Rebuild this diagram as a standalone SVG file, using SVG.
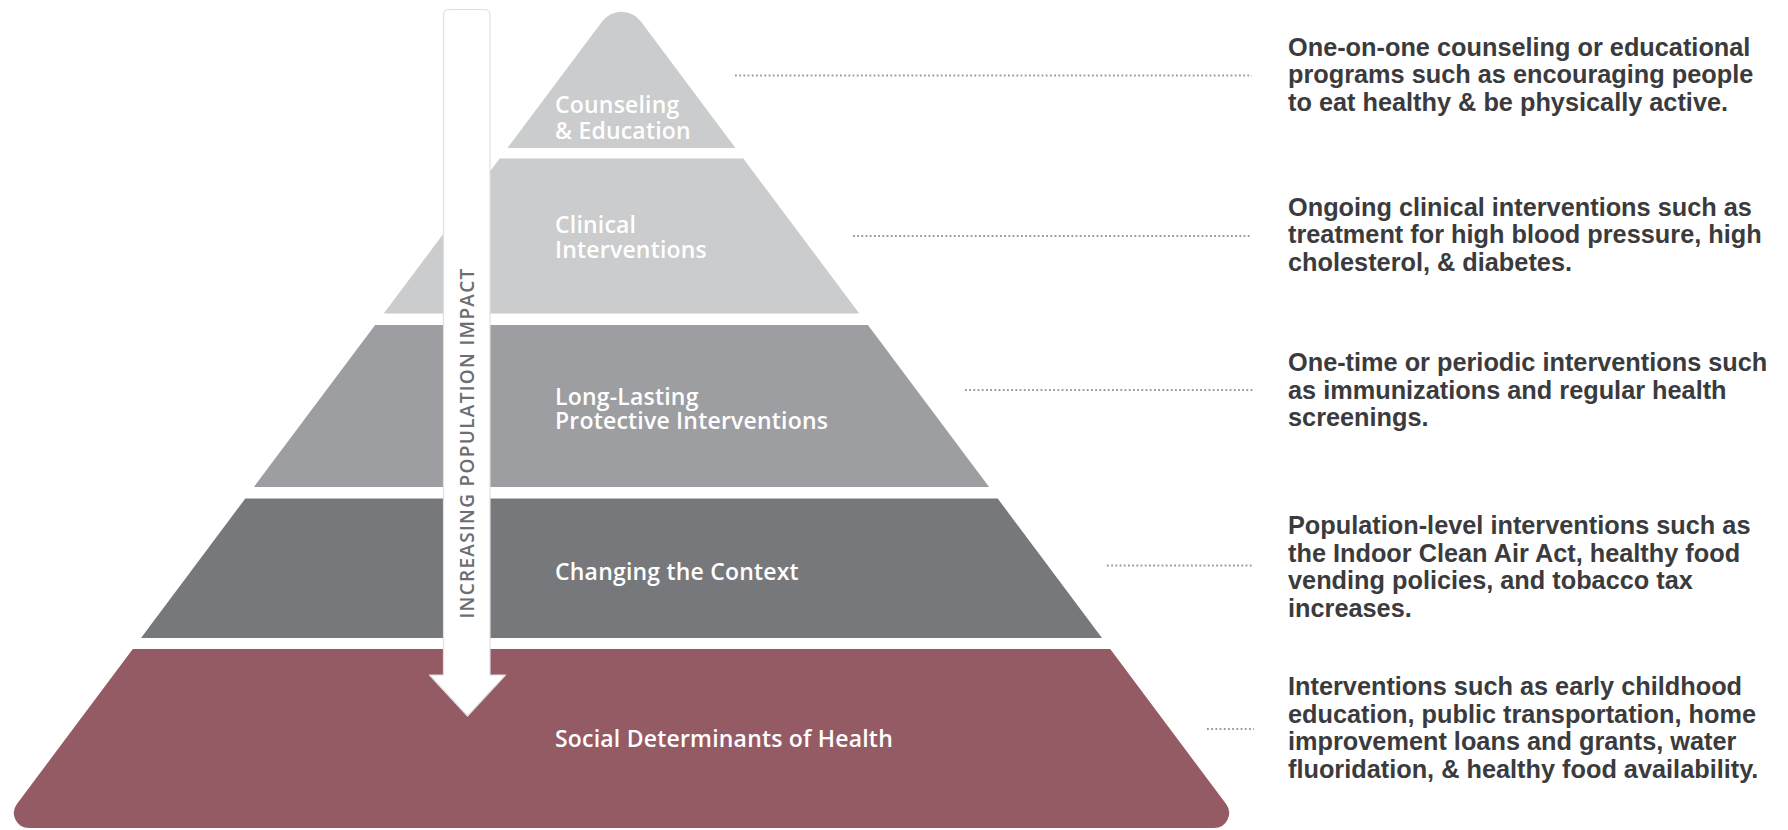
<svg xmlns="http://www.w3.org/2000/svg" width="1788" height="830" viewBox="0 0 1788 830">
  <defs>
    <style>
      .tier-label { font-family: "Open Sans", "Noto Sans", sans-serif; font-size: 23px; font-weight: 600; letter-spacing: 0.2px; fill: #ffffff; }
      .desc { font-family: "Liberation Sans", Arial, sans-serif; font-weight: bold; font-size: 25.3px; fill: #3b3b3d; }
      .leader { stroke: #9b9b9b; stroke-width: 1.8; stroke-dasharray: 1.8 2.4; fill: none; }
      .axis-label { font-family: "Open Sans", "Noto Sans", sans-serif; font-size: 19px; font-weight: 600; letter-spacing: 1.3px; fill: #6d6e71; }
    </style>
  </defs>
  <rect x="0" y="0" width="1788" height="830" fill="#ffffff"/>

  <!-- pyramid tiers, top to bottom -->
  <g id="tier-counseling">
    <path d="M507.5,148 L602.3,21.3 A24,24 0 0 1 640.7,21.3 L735.5,148 Z" fill="#cbcccd"/>
    <text class="tier-label" x="555" y="113.3">Counseling</text>
    <text class="tier-label" x="555" y="139">&amp; Education</text>
  </g>
  <g id="tier-clinical">
    <path d="M499.7,158.5 L743.3,158.5 L859.3,313.5 L383.7,313.5 Z" fill="#cbcccd"/>
    <text class="tier-label" x="555" y="233.3">Clinical</text>
    <text class="tier-label" x="555" y="258.3">Interventions</text>
  </g>
  <g id="tier-protective">
    <path d="M375.1,325 L867.9,325 L989.1,487 L253.9,487 Z" fill="#9d9ea1"/>
    <text class="tier-label" x="555" y="404.8">Long-Lasting</text>
    <text class="tier-label" x="555" y="429">Protective Interventions</text>
  </g>
  <g id="tier-context">
    <path d="M245.3,498.5 L997.7,498.5 L1102,638 L141,638 Z" fill="#77787b"/>
    <text class="tier-label" x="555" y="580">Changing the Context</text>
  </g>
  <g id="tier-social">
    <path d="M132.8,649 L1110.2,649 L1226.1,804 A15,15 0 0 1 1214.1,828 L28.9,828 A15,15 0 0 1 16.9,804 Z" fill="#955b65"/>
    <text class="tier-label" x="555" y="747">Social Determinants of Health</text>
  </g>

  <!-- downward impact arrow -->
  <g id="impact-arrow">
    <path d="M443.5,675 L443.5,15 Q443.5,9.5 449,9.5 L484.5,9.5 Q490,9.5 490,15 L490,675 L505.5,675 L467.5,716 L429.5,675 Z" fill="#ffffff" stroke="#e0e0e0" stroke-width="1.2" stroke-linejoin="round"/>
    <text class="axis-label" transform="translate(473.5,443) rotate(-90)" x="0" y="0" text-anchor="middle">INCREASING POPULATION IMPACT</text>
  </g>

  <!-- dotted leaders from tiers to descriptions -->
  <g id="connectors">
    <line class="leader" x1="735" y1="75.5" x2="1252" y2="75.5"/>
    <line class="leader" x1="853" y1="236" x2="1252" y2="236"/>
    <line class="leader" x1="965" y1="390" x2="1254" y2="390"/>
    <line class="leader" x1="1107" y1="565.5" x2="1254" y2="565.5"/>
    <line class="leader" x1="1207" y1="729" x2="1254" y2="729"/>
  </g>

  <!-- descriptions -->
  <g id="desc-counseling">
    <text class="desc" x="1288" y="55.5">One-on-one counseling or educational</text>
    <text class="desc" x="1288" y="83.2">programs such as encouraging people</text>
    <text class="desc" x="1288" y="110.8">to eat healthy &amp; be physically active.</text>
  </g>
  <g id="desc-clinical">
    <text class="desc" x="1288" y="215.5">Ongoing clinical interventions such as</text>
    <text class="desc" x="1288" y="243.2">treatment for high blood pressure, high</text>
    <text class="desc" x="1288" y="270.9">cholesterol, &amp; diabetes.</text>
  </g>
  <g id="desc-protective">
    <text class="desc" x="1288" y="371">One-time or periodic interventions such</text>
    <text class="desc" x="1288" y="398.6">as immunizations and regular health</text>
    <text class="desc" x="1288" y="426.4">screenings.</text>
  </g>
  <g id="desc-context">
    <text class="desc" x="1288" y="534">Population-level interventions such as</text>
    <text class="desc" x="1288" y="561.7">the Indoor Clean Air Act, healthy food</text>
    <text class="desc" x="1288" y="589.4">vending policies, and tobacco tax</text>
    <text class="desc" x="1288" y="617">increases.</text>
  </g>
  <g id="desc-social">
    <text class="desc" x="1288" y="695">Interventions such as early childhood</text>
    <text class="desc" x="1288" y="722.7">education, public transportation, home</text>
    <text class="desc" x="1288" y="750.4">improvement loans and grants, water</text>
    <text class="desc" x="1288" y="778.1">fluoridation, &amp; healthy food availability.</text>
  </g>
</svg>
